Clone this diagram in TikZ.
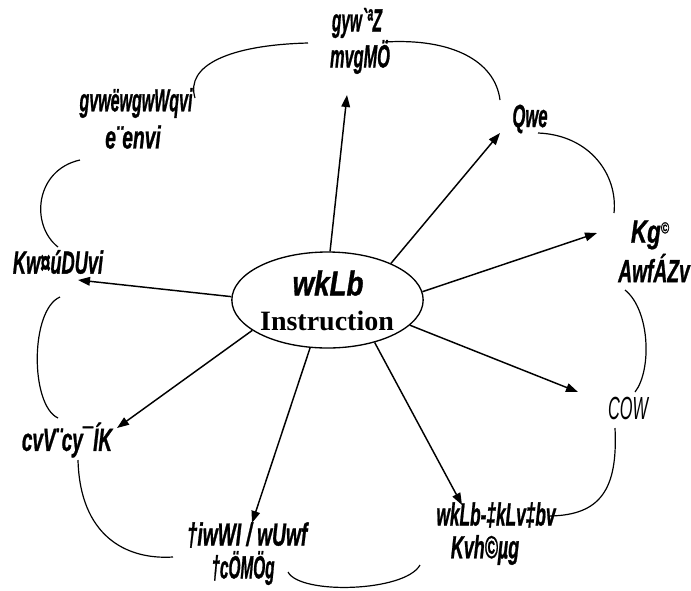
\documentclass[tikz,border=0pt]{standalone}
\usepackage{fontspec}
\usepackage{graphicx}
\setmainfont{Liberation Serif}
\newfontfamily\bnfont{Liberation Sans}[BoldItalicFeatures={FakeBold=1.2}]
\usetikzlibrary{arrows.meta,shapes.geometric}
\newcommand{\bnt}[2]{\scalebox{#1}[1]{\bnfont\bfseries\itshape #2}}
\begin{document}
\begin{tikzpicture}[x=0.75pt,y=-0.75pt,
  lab/.style={inner sep=0pt, font=\fontsize{24}{25}\selectfont},
  arr/.style={line width=1.1pt, -{Triangle[length=9pt,width=6.5pt]}},
  arcline/.style={line width=0.9pt},
]
\useasboundingbox (0,0) rectangle (691,590);
% centre
\node[draw, ellipse, line width=1pt, minimum width=143.5pt, minimum height=72pt, inner sep=0pt] (c) at (327.5,300) {};
\node[lab, font=\fontsize{26}{27}\selectfont] (w) at (328,283) {\bnt{0.8}{wkLb}};
\node[inner sep=0pt, font=\fontsize{21}{22}\selectfont\bfseries] (ins) at (327,321) {Instruction};
% labels
\node[lab] (l1a) at (357,23) {\bnt{0.48}{gyw`ªZ}};
\node[lab] (l1b) at (360,57) {\bnt{0.51}{mvgMÖ}};
\node[lab] (l2) at (530,119) {\bnt{0.52}{Qwe}};
\node[lab] (l3a) at (650,235) {\bnt{0.7}{Kg\raisebox{0.55ex}{\fontsize{12}{12}\selectfont ©}}};
\node[lab] (l3b) at (654,268) {\bnt{0.6}{AwfÁZv}};
\node[lab] (l4) at (628,408) {\scalebox{0.51}[1]{\bnfont\itshape COW}};
\node[lab] (l5a) at (496,515) {\bnt{0.54}{wkLb-‡kLv‡bv}};
\node[lab] (l5b) at (485,550) {\bnt{0.56}{Kvh©µg}};
\node[lab] (l6a) at (247,535) {\bnt{0.6}{†iwWI / wUwf}};
\node[lab] (l6b) at (243,568) {\bnt{0.48}{†cÖMÖg}};
\node[lab] (l7) at (67,440) {\bnt{0.59}{cvV¨cy¯ÍK}};
\node[lab] (l8) at (58,262) {\bnt{0.57}{Kw¤úDUvi}};
\node[lab] (l9a) at (136,103) {\bnt{0.5}{gvwëwgwWqvi}};
\node[lab] (l9b) at (133,137) {\bnt{0.6}{e¨envi}};
% arrow tips
\coordinate (t1) at (347,95);
\coordinate (t2) at (500,133);
\coordinate (t3) at (597,233);
\coordinate (t4) at (578,392);
\coordinate (t5) at (462,505);
\coordinate (t6) at (252,523);
\coordinate (t7) at (117,428);
\coordinate (t8) at (78,280);
\draw[arr] (c.87) -- (t1);
\draw[arr] (c.30.5) -- (t2);
\draw[arr] (c.5) -- (t3);
\draw[arr] (c.-17) -- (t4);
\draw[arr] (c.-42) -- (t5);
\draw[arr] (c.-110) -- (t6);
\draw[arr] (c.-158) -- (t7);
\draw[arr] (c.178) -- (t8);
% cloud arcs
\coordinate (a1s) at (195,98);  \coordinate (a1e) at (308,43);
\coordinate (a2s) at (385,42);  \coordinate (a2e) at (500,100);
\coordinate (a3s) at (538,133); \coordinate (a3e) at (614,213);
\coordinate (a4s) at (625,290); \coordinate (a4e) at (635,392);
\coordinate (a5s) at (615,428); \coordinate (a5e) at (550,516);
\coordinate (a6s) at (288,572); \coordinate (a6e) at (420,565);
\coordinate (a7s) at (78,460);  \coordinate (a7e) at (173,557);
\coordinate (a8s) at (60,297);  \coordinate (a8e) at (58,418);
\coordinate (a9s) at (58,247);  \coordinate (a9e) at (80,160);
\draw[arcline] (a1s) .. controls (185,65) and (230,45) .. (a1e);
\draw[arcline] (a2s) .. controls (450,38) and (495,60) .. (a2e);
\draw[arcline] (a3s) .. controls (590,135) and (618,175) .. (a3e);
\draw[arcline] (a4s) .. controls (650,310) and (652,370) .. (a4e);
\draw[arcline] (a5s) .. controls (618,490) and (600,515) .. (a5e);
\draw[arcline] (a6s) .. controls (300,595) and (405,592) .. (a6e);
\draw[arcline] (a7s) .. controls (80,535) and (125,560) .. (a7e);
\draw[arcline] (a8s) .. controls (30,310) and (30,405) .. (a8e);
\draw[arcline] (a9s) .. controls (30,225) and (35,170) .. (a9e);
\end{tikzpicture}
\end{document}
